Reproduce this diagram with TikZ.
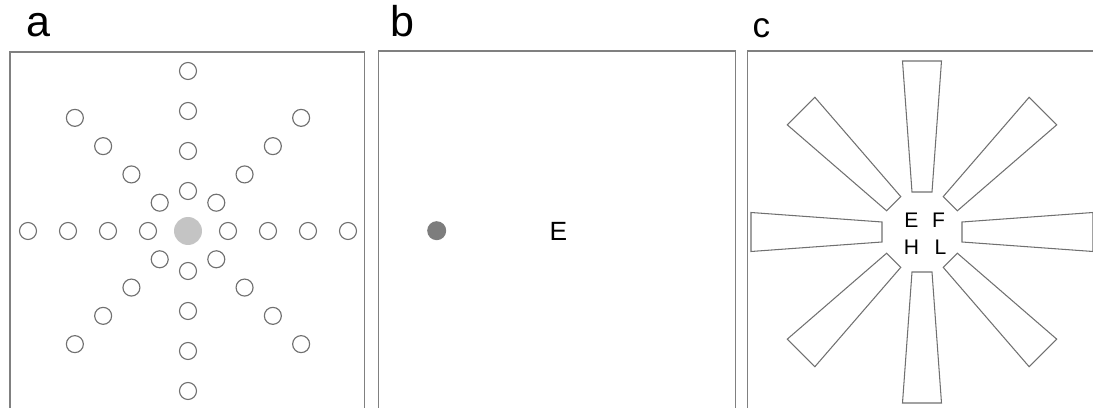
\documentclass[tikz,border=0pt]{standalone}
\usepackage{fontspec}
\setmainfont{Liberation Sans}
\usetikzlibrary{positioning,calc}

\definecolor{framegray}{RGB}{128,128,128}
\definecolor{ringgray}{RGB}{112,112,112}
\definecolor{fixgray}{RGB}{196,196,196}
\definecolor{dotgray}{RGB}{125,125,125}

\begin{document}
\begin{tikzpicture}[
  x=0.02cm, y=-0.02cm,
  frame/.style={draw=framegray, line width=0.7pt},
  ring/.style={circle, draw=ringgray, line width=0.65pt, minimum size=0.34cm, inner sep=0pt},
  fixation/.style={circle, fill=fixgray, minimum size=0.56cm, inner sep=0pt},
  target/.style={circle, fill=dotgray, minimum size=0.38cm, inner sep=0pt},
  bar/.style={draw=ringgray, line width=0.6pt},
  panel/.style={anchor=base west, font=\fontsize{24.5}{28}\selectfont},
  letter/.style={inner sep=0pt, font=\fontsize{15}{18}\selectfont},
  small letter/.style={inner sep=0pt, font=\fontsize{12}{14}\selectfont},
]
  \clip (0,0) rectangle (1093,408);

  % Panel a
  \node[panel] (la) at (20.5,37) {a};
  \draw[frame] (10,52) rectangle (364.5,430);
  \node[fixation] (fix) at (188,231) {};
  \foreach \a in {0,45,...,315}
    \foreach \r in {40,80,120,160}
      \node[ring] (ring-\a-\r) at ($(fix)+(\a:\r)$) {};

  % Panel b
  \node[panel] (lb) at (384.5,37) {b};
  \draw[frame] (378.5,51) rectangle (735.5,430);
  \node[target] (dot) at (436.7,230.7) {};
  \node[letter] (eb) at (558.3,231.2) {E};

  % Panel c
  \node[panel, font=\fontsize{20}{24}\selectfont] (lc) at (746.5,38) {c};
  \draw[frame] (747.5,51) rectangle (1110,430);
  \coordinate (mid) at (922,232);
  \foreach \a in {0,45,...,315}
    \draw[bar, shift={(mid)}, rotate=\a] (40,-10) -- (40,10) -- (171,19.5) -- (171,-19.5) -- cycle;
  \node[small letter] (ce) at (911.5,220.5) {E};
  \node[small letter] (cf) at (938.5,220.5) {F};
  \node[small letter] (ch) at (911.5,247) {H};
  \node[small letter] (cl) at (940.5,247) {L};
\end{tikzpicture}
\end{document}
